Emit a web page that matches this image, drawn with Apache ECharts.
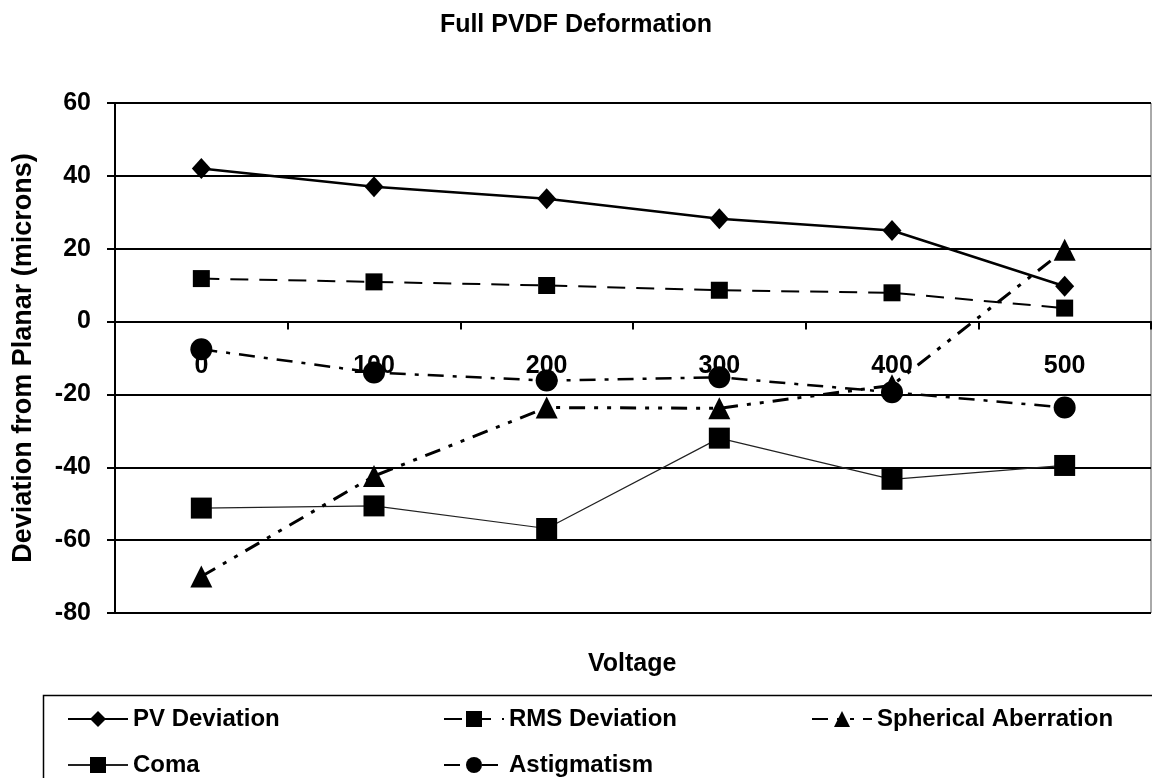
<!DOCTYPE html>
<html>
<head>
<meta charset="utf-8">
<title>Full PVDF Deformation</title>
<script src="https://cdn.jsdelivr.net/npm/echarts@6/dist/echarts.min.js"></script>
<style>
  html, body { margin: 0; padding: 0; background: #fff; }
  #chart { width: 1152px; height: 778px; }
</style>
</head>
<body>
<div id="chart"></div>
<script>
// Voltage steps (category axis)
const voltages = ['0', '100', '200', '300', '400', '500'];

// Deviation from planar, microns
const pvDeviation = [42, 37, 33.7, 28.2, 25, 9.7];
const rmsDeviation = [11.8, 10.9, 9.9, 8.6, 7.9, 3.7];
const sphericalAberration = [-70, -42.4, -23.6, -23.8, -17.5, 19.7];
const coma = [-51.2, -50.6, -56.8, -32, -43.3, -39.5];
const astigmatism = [-7.6, -14, -16.2, -15.3, -19.4, -23.6];

// Y axis range
const yMin = -80, yMax = 60, yStep = 20;

// Plot box in pixels
const GRID = { left: 115, right: 1, top: 103, bottom: 165 };
const plotHeight = 778 - GRID.top - GRID.bottom;
// lift the category axis from the bottom edge up to the zero line
const zeroOffset = -plotHeight * (0 - yMin) / (yMax - yMin);

const FONT = '"Liberation Sans", Arial, sans-serif';
const legendText = { fontFamily: FONT, fontWeight: 'bold', fontSize: 24, color: '#000' };

function legendEntry(name, left, top) {
  return {
    orient: 'horizontal', left: left, top: top,
    itemWidth: 60, itemHeight: 20, itemGap: 0,
    data: [name],
    textStyle: legendText
  };
}

const chart = echarts.init(document.getElementById('chart'), null, { renderer: 'canvas' });

chart.setOption({
  animation: false,
  backgroundColor: '#fff',
  color: ['#000'],
  title: [
    {
      text: 'Full PVDF Deformation',
      left: 'center',
      top: 8,
      textStyle: { fontFamily: FONT, fontWeight: 'bold', fontSize: 25, color: '#000' }
    },
    {
      text: 'Voltage',
      left: 583,
      top: 647,
      textStyle: { fontFamily: FONT, fontWeight: 'bold', fontSize: 25, color: '#000' }
    }
  ],
  grid: {
    left: GRID.left, right: GRID.right, top: GRID.top, bottom: GRID.bottom,
    show: true, borderColor: '#555', borderWidth: 1
  },
  xAxis: {
    type: 'category',
    data: voltages,
    boundaryGap: true,
    offset: zeroOffset,
    axisLine: { onZero: false, lineStyle: { color: '#000', width: 2 } },
    axisTick: { show: true, length: 8, lineStyle: { color: '#000', width: 2 } },
    axisLabel: {
      margin: 32,
      fontFamily: FONT, fontWeight: 'bold', fontSize: 25, color: '#000'
    },
    splitLine: { show: false }
  },
  yAxis: {
    type: 'value',
    min: yMin, max: yMax, interval: yStep,
    name: 'Deviation from Planar (microns)',
    nameLocation: 'middle',
    nameGap: 78,
    nameTextStyle: { fontFamily: FONT, fontWeight: 'bold', fontSize: 27, color: '#000' },
    axisLine: { show: true, lineStyle: { color: '#000', width: 2 } },
    axisTick: { show: true, length: 8, lineStyle: { color: '#000', width: 2 } },
    axisLabel: {
      margin: 24,
      fontFamily: FONT, fontWeight: 'bold', fontSize: 25, color: '#000'
    },
    splitLine: { show: true, lineStyle: { color: '#000', width: 2 } }
  },
  legend: [
    legendEntry('PV Deviation', 62, 702),
    legendEntry('RMS Deviation', 438, 702),
    legendEntry('Spherical Aberration', 806, 702),
    legendEntry('Coma', 62, 748),
    legendEntry('Astigmatism', 438, 748)
  ],
  graphic: [
    {
      type: 'rect',
      shape: { x: 43.5, y: 695.5, width: 1120, height: 120 },
      style: { fill: 'none', stroke: '#000', lineWidth: 1.5 },
      z: -1
    }
  ],
  series: [
    {
      name: 'Coma', type: 'line', data: coma,
      symbol: 'rect', symbolSize: 21,
      lineStyle: { color: '#222', width: 1.2, type: 'solid' },
      itemStyle: { color: '#000' }
    },
    {
      name: 'Astigmatism', type: 'line', data: astigmatism,
      symbol: 'circle', symbolSize: 22,
      lineStyle: { color: '#000', width: 2.5, type: [16, 9, 4, 9] },
      itemStyle: { color: '#000' }
    },
    {
      name: 'Spherical Aberration', type: 'line', data: sphericalAberration,
      symbol: 'triangle', symbolSize: 22,
      lineStyle: { color: '#000', width: 3, type: [16, 9, 4, 9, 4, 9] },
      itemStyle: { color: '#000' }
    },
    {
      name: 'RMS Deviation', type: 'line', data: rmsDeviation,
      symbol: 'rect', symbolSize: 17,
      lineStyle: { color: '#000', width: 2, type: [18, 11] },
      itemStyle: { color: '#000' }
    },
    {
      name: 'PV Deviation', type: 'line', data: pvDeviation,
      symbol: 'diamond', symbolSize: [19, 21],
      lineStyle: { color: '#000', width: 2.5, type: 'solid' },
      itemStyle: { color: '#000' }
    }
  ]
});
</script>
</body>
</html>
